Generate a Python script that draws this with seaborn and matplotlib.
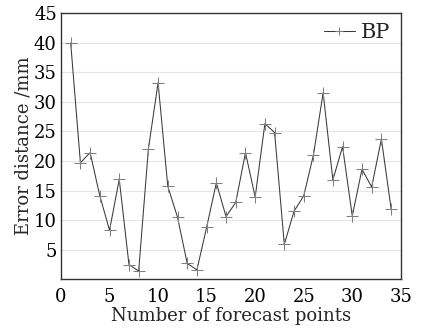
import matplotlib
matplotlib.use("Agg")
import matplotlib.pyplot as plt
import seaborn as sns
import pandas as pd

# Error distance of the BP model at each forecast point
points = list(range(1, 35))
errors = [39.9, 19.7, 21.4, 14.1, 8.3, 16.9, 2.5, 1.4, 22.0, 33.2,
          15.7, 10.5, 2.7, 1.6, 8.8, 16.3, 10.6, 13.0, 21.4, 13.9,
          26.3, 24.8, 5.9, 11.5, 14.1, 21.0, 31.5, 16.8, 22.4, 10.7,
          18.6, 15.6, 23.7, 11.9]

df = pd.DataFrame({"point": points, "error": errors})

sns.set_style("white")
plt.rcParams["font.family"] = ["DejaVu Serif"]

fig = plt.figure(figsize=(4.28, 3.31), dpi=100)
ax = fig.add_axes([0.1425, 0.156, 0.794, 0.805])

sns.lineplot(data=df, x="point", y="error", ax=ax, color="#3a3a3a",
             linewidth=0.75, marker="+", markersize=8, markeredgecolor="#808080",
             markeredgewidth=0.75, label="BP")

ax.set_xlim(0, 35)
ax.set_ylim(0, 45)
ax.set_xticks(range(0, 36, 5))
ax.set_yticks(range(5, 46, 5))
ax.grid(axis="y", color="#e6e6e6", linewidth=0.8)
ax.set_axisbelow(True)
for s in ax.spines.values():
    s.set_color("#333333")
    s.set_linewidth(1.0)
ax.tick_params(direction="in", length=5, labelsize=13, colors="#333333",
               labelcolor="black")
ax.tick_params(axis="x", pad=6)
ax.tick_params(axis="y", pad=3)
ax.set_xlabel("Number of forecast points", fontsize=13, labelpad=1)
ax.set_ylabel("Error distance /mm", fontsize=13, labelpad=1)

ax.legend(loc="upper right", frameon=False, fontsize=15, handlelength=1.5,
          handletextpad=0.3, borderaxespad=0.1, markerscale=0.8)

fig.savefig("out.png", dpi=100)
